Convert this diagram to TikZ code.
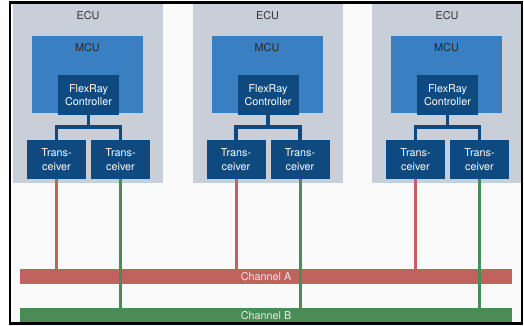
\documentclass[tikz,border=0pt]{standalone}
\usepackage{fontspec}
\setmainfont{TeX Gyre Heros}
\usetikzlibrary{positioning}

\definecolor{ecugray}{HTML}{C9CFD9}
\definecolor{mcublue}{HTML}{3A7FC2}
\definecolor{darkblue}{HTML}{0E4A80}
\definecolor{chred}{HTML}{C0635E}
\definecolor{chgreen}{HTML}{4A8B56}

\begin{document}
\begin{tikzpicture}[x=1pt, y=-1pt,
    every node/.style={font=\fontsize{10.8}{13.5}\selectfont, inner sep=0pt},
    ecubox/.style={fill=ecugray, minimum width=150pt, minimum height=179pt,
        label={[anchor=north, yshift=-7.5pt, text=black!80]north:ECU}},
    mcubox/.style={fill=mcublue, minimum width=111pt, minimum height=77pt,
        label={[anchor=north, yshift=-7pt, text=black!85]north:MCU}},
    ctrlbox/.style={fill=darkblue, text=white, align=center, minimum width=61pt, minimum height=40pt},
    trxbox/.style={fill=darkblue, text=white, align=center, minimum width=59pt, minimum height=39pt},
    channel/.style={text=white!92!black, minimum width=492pt, minimum height=15pt},
    stem/.style={darkblue, line width=3.5pt},
    tap/.style={line width=3pt}]
    \useasboundingbox (0,0) rectangle (524,326);
    \fill[gray!4] (10,2.5) rectangle (522,323.5);

    % bus
    \node[channel, fill=chred] (chA) at (266,276.5) {Channel A};
    \node[channel, fill=chgreen] (chB) at (266,315.5) {Channel B};

    % the three ECUs
    \foreach \i/\x in {1/13, 2/192.5, 3/372} {
        \node[ecubox] (ecu\i) at (\x+75,93.5) {};
        \node[mcubox] (mcu\i) at (\x+74.5,74.5) {};
        \node[ctrlbox] (c\i) at (\x+75.5,95) {FlexRay\\Controller};
        \node[trxbox] (ta\i) at (\x+43.5,159.5) {Trans-\\ceiver};
        \node[trxbox] (tb\i) at (\x+107.5,159.5) {Trans-\\ceiver};
        \draw[stem] (c\i.south) -- ++(0,12) coordinate (j\i) -| (ta\i.north);
        \draw[stem] (j\i) -| (tb\i.north);
        \draw[tap, chred] (ta\i.south) -- (ta\i.south |- chA.north);
        \draw[tap, chgreen] (tb\i.south) -- (tb\i.south |- chB.north);
    }

    \draw[line width=2.5pt] (10,2.5) rectangle (522,323.5);
\end{tikzpicture}
\end{document}
